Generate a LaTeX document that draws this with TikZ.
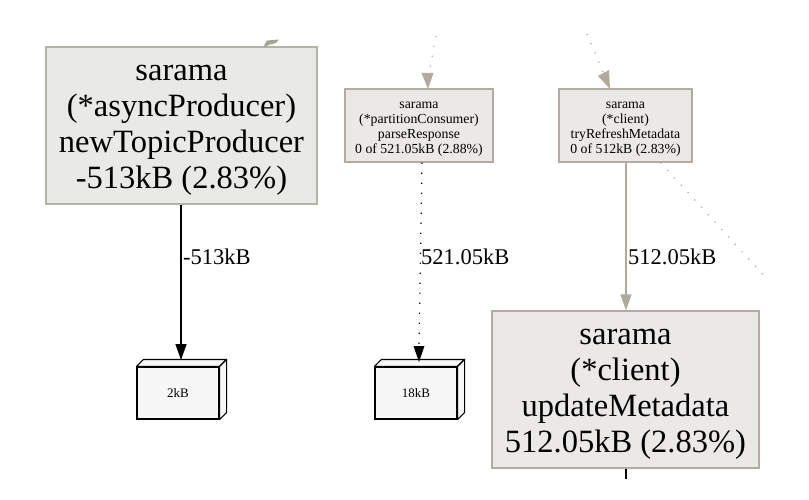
\documentclass[tikz,border=0pt]{standalone}
\usepackage{fontspec}
\setmainfont{Liberation Serif}
\usetikzlibrary{arrows.meta}
\definecolor{greenfill}{RGB}{233,234,229}
\definecolor{greenedge}{RGB}{178,181,164}
\definecolor{tanfill}{RGB}{235,233,231}
\definecolor{tanedge}{RGB}{178,172,162}
\definecolor{tanline}{RGB}{178,170,155}
\definecolor{greenline}{RGB}{160,168,145}
\definecolor{boxfill}{RGB}{247,247,247}
\newcommand\bigtop{\rule{0pt}{25pt}}
\newcommand\smalltop{\rule{0pt}{14.5pt}}
\tikzset{
  bigbox/.style={draw, line width=1.3pt, align=center, inner sep=0pt,
    font=\fontsize{32.5}{36}\selectfont},
  smallbox/.style={draw=tanedge, fill=tanfill, line width=1.3pt, align=center, inner sep=0pt,
    font=\fontsize{13.8}{15}\selectfont},
  leafbox/.style={draw=black, fill=boxfill, line width=1.1pt, inner sep=0pt,
    minimum width=82pt, minimum height=52pt, font=\fontsize{13}{14}\selectfont},
  elabel/.style={font=\fontsize{22.5}{24}\selectfont, inner sep=0pt, anchor=west},
  arr/.style={-{Triangle[length=16pt,width=11pt]}},
  dots/.style={line width=1.2pt, dash pattern=on 1.2pt off 8.8pt},
}
\begin{document}
\begin{tikzpicture}[x=1pt,y=-1pt]
\useasboundingbox (0,0) rectangle (809,500);

% main nodes
\node[bigbox, draw=greenedge, fill=greenfill, minimum width=271pt, minimum height=157pt]
  (A) at (181.5,125.5) {\bigtop sarama\\(*asyncProducer)\\newTopicProducer\\-513kB (2.83\%)};
\node[smallbox, minimum width=148pt, minimum height=73pt]
  (B) at (419,125.5) {\smalltop sarama\\(*partitionConsumer)\\parseResponse\\0 of 521.05kB (2.88\%)};
\node[smallbox, minimum width=133pt, minimum height=73pt]
  (C) at (625.5,125.5) {\smalltop sarama\\(*client)\\tryRefreshMetadata\\0 of 512kB (2.83\%)};
\node[bigbox, draw=tanedge, fill=tanfill, minimum width=267pt, minimum height=157pt]
  (D) at (625.5,389.5) {\bigtop sarama\\(*client)\\updateMetadata\\512.05kB (2.83\%)};

% leaf boxes (3D)
\node[leafbox] (L1) at (178,393) {2kB};
\node[leafbox] (L2) at (416,393) {18kB};
\foreach \n in {L1,L2}{
  \draw[line width=1.1pt, fill=boxfill, line join=round]
    (\n.north west) -- ++(7,-7) -- ([shift={(7,-7)}]\n.north east) -- (\n.north east) -- cycle;
  \draw[line width=1.1pt, fill=boxfill, line join=round]
    (\n.north east) -- ++(7,-7) -- ([shift={(7,-7)}]\n.south east) -- (\n.south east) -- cycle;
}

% free ends
\coordinate (Bin) at (436,36);
\coordinate (Cin) at (587,34);
\coordinate (Cout) at (767,279);
\coordinate (Dout) at (626,479);

% edges
\draw[arr, line width=1.3pt, black] (A.south -| 181,0) -- (181,360);
\node[elabel] (l1) at (183,257) {-513kB};

\draw[dots, black] (B.south -| 422,0) -- (419,346);
\fill[black] (419,362) -- (413.5,346) -- (424.5,346) -- cycle;
\node[elabel] (l2) at (421,257) {521.05kB};

\draw[arr, line width=1.3pt, tanline] (C.south -| 626,0) -- (D.north -| 626,0);
\node[elabel] (l3) at (628,257) {512.05kB};

\draw[dots, tanline] (Bin) -- (429,73);
\fill[tanline] (428,89) -- (421.5,73) -- (433.5,73) -- cycle;
\draw[dots, tanline] (Cin) -- (603,72);
\fill[tanline] (610,89) -- (598,76) -- (609,70) -- cycle;
\draw[dots, tanline] ([xshift=-32pt]C.south east) -- (Cout);

\draw[line width=1.3pt, black] (D.south -| 626,0) -- (Dout);

% clipped arrowhead above A
\fill[greenline] (263,47.5) -- (267,40.5) -- (279,39.5) -- (276,43) -- (270,44.5) -- cycle;
\end{tikzpicture}
\end{document}
